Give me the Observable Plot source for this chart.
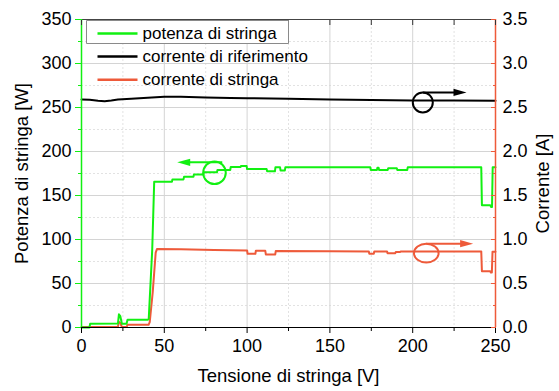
<!DOCTYPE html>
<html>
<head>
<meta charset="utf-8">
<script src="https://cdn.jsdelivr.net/npm/d3@7"></script>
<script src="https://cdn.jsdelivr.net/npm/@observablehq/plot@0.6"></script>
<style>
  html, body { margin: 0; padding: 0; background: white; }
  #chart { width: 559px; height: 391px; }
</style>
</head>
<body>
<div id="chart"></div>
<script>
// ---- data ----
// potenza di stringa: [Tensione V, Potenza W]
const potenzaStringa = [
  [0,0],[4.8,0],[5.2,4.2],[22,4.5],[22.6,15],[23.4,13],[24.4,4.2],[27.2,4.2],[27.8,8.8],
  [40,8.8],[40.6,10],[42.7,88],[43.9,165.5],[54.6,165.5],[54.9,168.3],[61.6,168.3],[61.9,171.2],
  [67.6,171.2],[67.9,174],[73.6,174],[73.9,176.3],[81.8,176.3],[82.1,179],[89.8,179],[90.1,182.3],
  [96,182.3],[96.3,183.5],[99.7,183.5],[100,180],[111.8,180],[112.1,177.5],[116.8,177.5],
  [117.1,182],[119.9,182],[120.2,178.5],[122.8,178.5],[123.1,182],[174.4,182],[174.7,179],
  [178.4,179],[178.7,181.5],[179.4,181.5],[179.7,179],[184.9,179],[185.2,181],[190.4,181],
  [190.7,179],[196.7,179],[197,182],[241.4,182],[241.8,139],[246.8,139],[247.4,137],[247.9,137],
  [248.3,182],[250,182]
];
// corrente di stringa: [Tensione V, Corrente A]
const correnteStringa = [
  [0,0.005],[22,0.005],[22.5,0.065],[23.5,0.05],[24.4,0.005],[27.2,0.005],[27.8,0.03],[40.5,0.03],
  [41.2,0.06],[43,0.4],[44.8,0.85],[45.6,0.893],[60,0.89],[80,0.882],[100,0.875],[100.3,0.838],
  [105,0.838],[105.3,0.872],[111,0.872],[111.3,0.83],[117,0.83],[117.3,0.868],[150,0.866],
  [173.5,0.865],[173.8,0.838],[176.5,0.838],[176.8,0.865],[184.5,0.865],[184.8,0.845],[189.5,0.845],
  [189.8,0.858],[192.5,0.858],[192.8,0.865],[241.4,0.865],[241.8,0.64],[246.8,0.64],[247.2,0.625],
  [247.8,0.625],[248.2,0.862],[250,0.862]
];
// corrente di riferimento: [Tensione V, Corrente A]
const correnteRiferimento = [
  [0,2.59],[5,2.588],[10,2.578],[14,2.572],[18,2.58],[22,2.59],[30,2.6],[40,2.612],[50,2.622],
  [60,2.622],[75,2.615],[90,2.608],[100,2.605],[125,2.6],[150,2.592],[175,2.585],[200,2.58],
  [225,2.579],[250,2.578]
];
// annotation circles and arrows (which axis each curve belongs to)
const circlePotenza = [[80.3,175.8]];          // [V, W]
const circleRiferimento = [[206.1,2.557]];     // [V, A]
const circleStringa = [[208.2,0.845]];         // [V, A]
const arrowPotenza = [[85,57.8,187.7]];        // [V from, V tip, W]
const arrowRiferimento = [[206.1,232.5,2.671]];// [V from, V tip, A]
const arrowStringa = [[208.2,236.5,0.952]];    // [V from, V tip, A]

const xTicks = [0,50,100,150,200,250];
const xMinor = [25,75,125,175,225];
const yTicksW = [0,50,100,150,200,250,300,350];
const yMinorW = [25,75,125,175,225,275,325];
const yTicksA = [0,0.5,1.0,1.5,2.0,2.5,3.0,3.5];
const yMinorA = [0.25,0.75,1.25,1.75,2.25,2.75,3.25];
const legendLabels = ["potenza di stringa","corrente di riferimento","corrente di stringa"];

// ---- styles ----
const GREEN = "#12f012";
const RED = "#ee5a3a";
const BLACK = "#000000";
const A2W = 100; // 3.5 A on the right axis aligns with 350 W on the left

// custom symbols
const arrowRight = {draw(c){ c.moveTo(0,0); c.lineTo(-13,-3.6); c.lineTo(-13,3.6); c.closePath(); }};
const arrowLeft  = {draw(c){ c.moveTo(0,0); c.lineTo(13,-3.6); c.lineTo(13,3.6); c.closePath(); }};
function ellipseSym(rx, ry) {
  const k = 0.5523;
  return {draw(c){
    c.moveTo(rx,0);
    c.bezierCurveTo(rx, ry*k, rx*k, ry, 0, ry);
    c.bezierCurveTo(-rx*k, ry, -rx, ry*k, -rx, 0);
    c.bezierCurveTo(-rx, -ry*k, -rx*k, -ry, 0, -ry);
    c.bezierCurveTo(rx*k, -ry, rx, -ry*k, rx, 0);
    c.closePath();
  }};
}
const hline = {draw(c){ c.moveTo(0,0); c.lineTo(40,0); }};
const legendBox = {draw(c){ c.rect(0,0,202,23); }};

const legendColors = [GREEN, BLACK, RED];
const legendRowDy = [14, 37, 60.3];
const legendTextDy = [19, 42, 65];

const chart = Plot.plot({
  width: 559,
  height: 391,
  marginLeft: 81,
  marginRight: 64,
  marginTop: 19,
  marginBottom: 64,
  style: {fontFamily: "'Liberation Sans', Arial, sans-serif", fontSize: "18px", background: "white", color: "black"},
  x: {domain: [0, 250], label: null},
  y: {domain: [0, 350], label: null},
  marks: [
    // grid
    Plot.gridX(xMinor, {stroke: "#e2e2e2", strokeOpacity: 1, strokeDasharray: "2,2"}),
    Plot.gridY(yMinorW, {stroke: "#e2e2e2", strokeOpacity: 1, strokeDasharray: "2,2"}),
    Plot.gridX(xTicks.slice(1, -1), {stroke: "#d4d4d4", strokeOpacity: 1}),
    Plot.gridY(yTicksW.slice(1, -1), {stroke: "#d4d4d4", strokeOpacity: 1}),

    // data
    Plot.line(correnteRiferimento, {x: d => d[0], y: d => d[1] * A2W, stroke: BLACK, strokeWidth: 2}),
    Plot.line(correnteStringa, {x: d => d[0], y: d => d[1] * A2W, stroke: RED, strokeWidth: 2}),
    Plot.line(potenzaStringa, {x: d => d[0], y: d => d[1], stroke: GREEN, strokeWidth: 2}),

    // annotations
    Plot.dot(circlePotenza, {x: d => d[0], y: d => d[1], r: 11.3, stroke: GREEN, strokeWidth: 2, fill: "none"}),
    Plot.dot(circleRiferimento, {x: d => d[0], y: d => d[1] * A2W, r: 10, stroke: BLACK, strokeWidth: 2, fill: "none"}),
    Plot.dot(circleStringa, {x: d => d[0], y: d => d[1] * A2W, symbol: ellipseSym(12.3, 9.3), stroke: RED, strokeWidth: 2, fill: "none"}),
    Plot.link(arrowPotenza, {x1: d => d[0], x2: d => d[1] + 4, y1: d => d[2], y2: d => d[2], stroke: GREEN, strokeWidth: 2}),
    Plot.dot(arrowPotenza, {x: d => d[1], y: d => d[2], symbol: arrowLeft, fill: GREEN, stroke: "none"}),
    Plot.link(arrowRiferimento, {x1: d => d[0], x2: d => d[1] - 4, y1: d => d[2] * A2W, y2: d => d[2] * A2W, stroke: BLACK, strokeWidth: 2}),
    Plot.dot(arrowRiferimento, {x: d => d[1], y: d => d[2] * A2W, symbol: arrowRight, fill: BLACK, stroke: "none"}),
    Plot.link(arrowStringa, {x1: d => d[0], x2: d => d[1] - 4, y1: d => d[2] * A2W, y2: d => d[2] * A2W, stroke: RED, strokeWidth: 2}),
    Plot.dot(arrowStringa, {x: d => d[1], y: d => d[2] * A2W, symbol: arrowRight, fill: RED, stroke: "none"}),

    // axis lines
    Plot.ruleY([0], {stroke: BLACK, strokeWidth: 1.2}),
    Plot.ruleY([350], {stroke: "#444", strokeWidth: 1.2}),
    Plot.ruleX([0], {stroke: GREEN, strokeWidth: 1.5}),
    Plot.ruleX([250], {stroke: RED, strokeWidth: 1.5}),

    // bottom axis
    Plot.axisX(xTicks, {anchor: "bottom", tickSize: 6, tickPadding: 6, stroke: BLACK, fill: BLACK, label: null, tickFormat: d => String(d)}),
    Plot.axisX(xMinor, {anchor: "bottom", tickSize: 4, stroke: BLACK, label: null, tickFormat: () => ""}),
    // top axis (ticks inward)
    Plot.axisX([...xTicks, ...xMinor], {anchor: "top", tickSize: 5, dy: 5, stroke: "#333", label: null, tickFormat: () => ""}),
    // left axis (green ticks outward)
    Plot.axisY(yTicksW, {anchor: "left", tickSize: 6, tickPadding: 4, stroke: GREEN, fill: BLACK, label: null, tickFormat: d => String(d)}),
    Plot.axisY(yMinorW, {anchor: "left", tickSize: 3, stroke: GREEN, label: null, tickFormat: () => ""}),
    // right axis (red ticks inward)
    Plot.axisY(yTicksA.map(a => a * A2W), {anchor: "right", tickSize: 0, tickPadding: 7, fill: BLACK, label: null, tickFormat: d => (d / A2W).toFixed(1)}),
    Plot.axisY(yTicksA.map(a => a * A2W), {anchor: "right", tickSize: 5, dx: -5, stroke: RED, label: null, tickFormat: () => ""}),
    Plot.axisY(yMinorA.map(a => a * A2W), {anchor: "right", tickSize: 3, dx: -3, stroke: RED, label: null, tickFormat: () => ""}),

    // axis titles
    Plot.text(["Tensione di stringa [V]"], {frameAnchor: "bottom", dy: 49, textAnchor: "middle", lineAnchor: "middle", fontSize: 18.5, fill: BLACK}),
    Plot.text(["Potenza di stringa [W]"], {frameAnchor: "left", dx: -59, rotate: -90, textAnchor: "middle", lineAnchor: "middle", fontSize: 18.5, fill: BLACK}),
    Plot.text(["Corrente [A]"], {frameAnchor: "right", dx: 48, dy: 10, rotate: -90, textAnchor: "middle", lineAnchor: "middle", fontSize: 18.5, fill: BLACK}),

    // legend
    Plot.dot([0], {frameAnchor: "top-left", dx: 5, dy: 1, symbol: legendBox, fill: "white", stroke: "#8a8a8a", strokeWidth: 1}),
    ...legendLabels.map((lab, i) => Plot.dot([lab], {frameAnchor: "top-left", dx: 16, dy: legendRowDy[i], symbol: hline, stroke: legendColors[i], strokeWidth: 2.5, fill: "none"})),
    ...legendLabels.map((lab, i) => Plot.text([lab], {frameAnchor: "top-left", dx: 61, dy: legendTextDy[i], textAnchor: "start", lineAnchor: "bottom", fontSize: 17, fill: BLACK}))
  ]
});
document.getElementById("chart").appendChild(chart);
</script>
</body>
</html>
